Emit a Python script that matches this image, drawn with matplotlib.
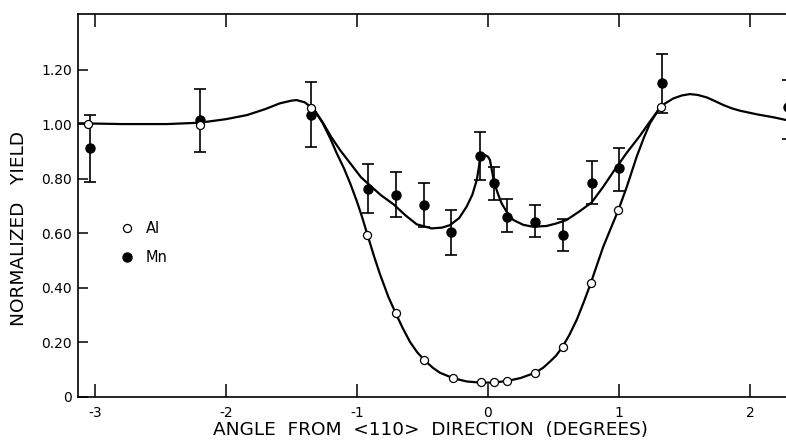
# -*- coding: utf-8 -*-

import matplotlib
matplotlib.use('Agg')
import matplotlib.pyplot as plt
import numpy as np


# Al data points (open circles)
al_x = [-3.05, -2.20, -1.35, -0.92, -0.70, -0.49, -0.27, -0.056, 0.046, 0.148,
        0.359, 0.570, 0.784, 0.995, 1.318]
al_y = [1.000, 0.995, 1.058, 0.593, 0.305, 0.134, 0.068, 0.052, 0.052, 0.058,
        0.087, 0.183, 0.415, 0.684, 1.063]

# Mn data points (filled circles) with error bar ends
mn_x = [-3.04, -2.20, -1.35, -0.913, -0.702, -0.489, -0.285, -0.061, 0.046, 0.148,
        0.359, 0.570, 0.791, 1.003, 1.326, 2.29]
mn_y = [0.913, 1.015, 1.033, 0.761, 0.741, 0.703, 0.604, 0.884, 0.782, 0.660,
        0.642, 0.593, 0.785, 0.837, 1.149, 1.062]
mn_hi = [1.033, 1.130, 1.154, 0.852, 0.825, 0.785, 0.684, 0.972, 0.843, 0.724,
         0.703, 0.650, 0.864, 0.913, 1.256, 1.160]
mn_lo = [0.788, 0.896, 0.917, 0.672, 0.660, 0.623, 0.519, 0.794, 0.723, 0.605,
         0.587, 0.534, 0.706, 0.755, 1.039, 0.945]

# hand drawn curve through the Al points
al_curve_x = [-3.13, -2.80, -2.45, -2.20, -2.00, -1.84, -1.70, -1.59, -1.50, -1.46,
              -1.40, -1.33, -1.26, -1.20, -1.155, -1.10, -1.05, -1.00, -0.96, -0.92,
              -0.87, -0.824, -0.76, -0.70, -0.65, -0.595, -0.54, -0.48, -0.42, -0.366,
              -0.31, -0.265, -0.16, -0.056, 0.04, 0.147, 0.25, 0.359, 0.42, 0.473,
              0.52, 0.57, 0.62, 0.677, 0.73, 0.784, 0.83, 0.88, 0.94, 0.995,
              1.06, 1.135, 1.19, 1.237, 1.30, 1.35, 1.415, 1.48, 1.542, 1.60,
              1.669, 1.73, 1.796, 1.86, 1.924, 2.05, 2.178, 2.275, 2.38]
al_curve_y = [1.003, 1.000, 1.000, 1.005, 1.018, 1.033, 1.055, 1.076, 1.086, 1.088,
              1.080, 1.055, 1.002, 0.943, 0.893, 0.838, 0.780, 0.715, 0.657, 0.593,
              0.515, 0.448, 0.365, 0.301, 0.250, 0.200, 0.162, 0.131, 0.105, 0.087,
              0.076, 0.067, 0.055, 0.051, 0.051, 0.057, 0.068, 0.087, 0.105, 0.128,
              0.150, 0.183, 0.225, 0.281, 0.345, 0.415, 0.480, 0.550, 0.620, 0.684,
              0.770, 0.880, 0.950, 1.003, 1.051, 1.075, 1.094, 1.105, 1.110, 1.107,
              1.098, 1.085, 1.070, 1.058, 1.049, 1.036, 1.025, 1.015, 1.010]

# hand drawn curve through the Mn points
mn_curve_x = [-1.33, -1.26, -1.20, -1.13, -1.05, -0.97, -0.913, -0.82, -0.72, -0.63,
              -0.544, -0.43, -0.35, -0.29, -0.22, -0.163, -0.12, -0.086, -0.07, -0.061,
              -0.04, -0.023, 0.0, 0.015, 0.03, 0.046, 0.075, 0.104, 0.15, 0.193,
              0.27, 0.346, 0.448, 0.52, 0.60, 0.70, 0.791, 0.88, 0.957, 1.06,
              1.16, 1.23, 1.30]
mn_curve_y = [1.055, 1.005, 0.955, 0.905, 0.855, 0.805, 0.780, 0.740, 0.705, 0.665,
              0.632, 0.617, 0.620, 0.629, 0.655, 0.697, 0.740, 0.794, 0.840, 0.874,
              0.885, 0.886, 0.880, 0.868, 0.830, 0.788, 0.745, 0.709, 0.672, 0.648,
              0.630, 0.623, 0.626, 0.635, 0.648, 0.680, 0.712, 0.770, 0.825, 0.895,
              0.957, 1.005, 1.051]

x_ticks = [-3, -2, -1, 0, 1, 2]
x_labels = ['-3', '-2', '-1', '0', '1', '2']
y_ticks = [0, 0.2, 0.4, 0.6, 0.8, 1.0, 1.2]
y_labels = ['0', '0.20', '0.40', '0.60', '0.80', '1.00', '1.20']


fig = plt.figure(figsize=(7.86, 4.47), dpi=100)
ax = fig.add_axes([78 / 786, 50.5 / 447, 722 / 786, 382.5 / 447])
ax.set_xlim(-3.13, 2.382)
ax.set_ylim(0, 1.404)

# curves
ax.plot(al_curve_x, al_curve_y, color='black', lw=1.6, zorder=2)
ax.plot(mn_curve_x, mn_curve_y, color='black', lw=1.6, zorder=2)

# error bars for Mn
mn_y_arr = np.array(mn_y)
yerr = [mn_y_arr - np.array(mn_lo), np.array(mn_hi) - mn_y_arr]
ax.errorbar(mn_x, mn_y, yerr=yerr, fmt='none', ecolor='black', elinewidth=1.2,
            capsize=4, capthick=1.2, zorder=3)

# points
ax.plot(mn_x, mn_y, 'o', color='black', ms=6.5, zorder=4, label='Mn')
ax.plot(al_x, al_y, 'o', mfc='white', mec='black', mew=0.9, ms=5.8, zorder=5, label='Al')

handles, labels = ax.get_legend_handles_labels()
ax.legend(handles[::-1], labels[::-1], loc='upper left', bbox_to_anchor=(0.047, 0.477),
          frameon=False, borderpad=0, handlelength=1.0, handletextpad=0.8,
          labelspacing=0.95, fontsize=10.5)

ax.set_xticks(x_ticks)
ax.set_xticklabels(x_labels, fontsize=10)
ax.set_yticks(y_ticks)
ax.set_yticklabels(y_labels, fontsize=10)
ax.tick_params(axis='x', direction='in', top=True, length=9.5, width=1.1, pad=7)
ax.tick_params(axis='y', direction='in', length=7.2, width=1.1, pad=4.5)

ax.spines['right'].set_visible(False)
for s in ['left', 'bottom', 'top']:
    ax.spines[s].set_linewidth(1.2)

ax.set_xlabel('ANGLE  FROM  <110>  DIRECTION  (DEGREES)', fontsize=13.3)
ax.xaxis.set_label_coords(0.488, -0.063)
ax.set_ylabel('NORMALIZED   YIELD', fontsize=13.3)
ax.yaxis.set_label_coords(-0.082, 0.439)
ax.xaxis.label.set_va('top')
ax.yaxis.label.set_va('center')

fig.savefig('out.png', dpi=100)
